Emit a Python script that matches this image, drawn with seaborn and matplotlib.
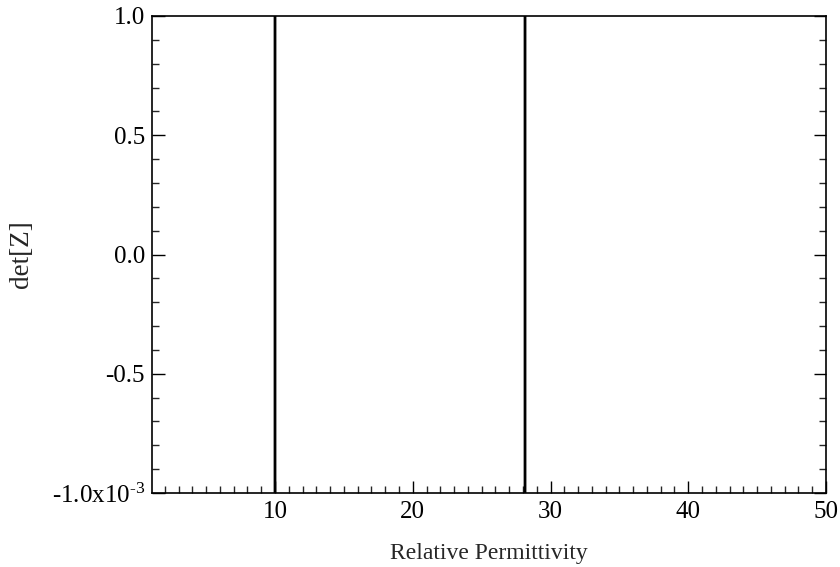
import numpy as np
import pandas as pd
import matplotlib
matplotlib.use("Agg")
import matplotlib.pyplot as plt
import seaborn as sns
from matplotlib.ticker import MultipleLocator, FixedLocator

# det[Z] sampled around its two zero crossings (values in units of 1e-3; very steep)
perm = [9.995, 10.0, 10.005, 28.145, 28.15, 28.155]
det_z = [-50.0, 0.0, 50.0, 50.0, 0.0, -50.0]
ytick_vals = [-1.0, -0.5, 0.0, 0.5, 1.0]
ytick_labels = ["-1.0x10$^{\\text{-3}}$", "-0.5", "0.0", "0.5", "1.0"]
xtick_vals = [10, 20, 30, 40, 50]

df = pd.DataFrame({"perm": perm, "det": det_z})

sns.set_style("ticks")
plt.rcParams["font.family"] = ["Liberation Serif", "DejaVu Serif"]
plt.rcParams["mathtext.fontset"] = "custom"
plt.rcParams["mathtext.rm"] = "Liberation Serif"
plt.rcParams["mathtext.it"] = "Liberation Serif:italic"

fig = plt.figure(figsize=(8.4, 5.67), dpi=100)
ax = fig.add_axes([152/840, 1 - 493/567, (826-152)/840, (493-16)/567])

sns.lineplot(data=df, x="perm", y="det", ax=ax, color="black", lw=2.0,
             sort=False, estimator=None)

ax.set_xlim(1.07, 50)
ax.set_ylim(-1.0, 1.0)
ax.xaxis.set_major_locator(FixedLocator(xtick_vals))
ax.xaxis.set_minor_locator(MultipleLocator(1))
ax.yaxis.set_major_locator(FixedLocator(ytick_vals))
ax.yaxis.set_minor_locator(MultipleLocator(0.1))
ax.set_yticklabels(ytick_labels)

ax.tick_params(axis="both", which="major", direction="in", length=9, width=1.0,
               labelsize=18, colors="black")
ax.tick_params(axis="x", which="major", pad=6)
ax.tick_params(axis="y", which="major", pad=5)
ax.tick_params(axis="both", which="minor", direction="in", length=5, width=1.0)
ax.tick_params(axis="y", which="both", right=True)
ax.tick_params(axis="x", which="both", top=False)

for s in ax.spines.values():
    s.set_linewidth(1.2)
    s.set_color("black")
    s.set_visible(True)

ax.set_xlabel("Relative Permittivity", fontsize=17, labelpad=14)
ax.set_ylabel("det[Z]", fontsize=19.5)
ax.yaxis.set_label_coords(-(152-34)/674, 0.5)

fig.savefig("out.png", dpi=100)
